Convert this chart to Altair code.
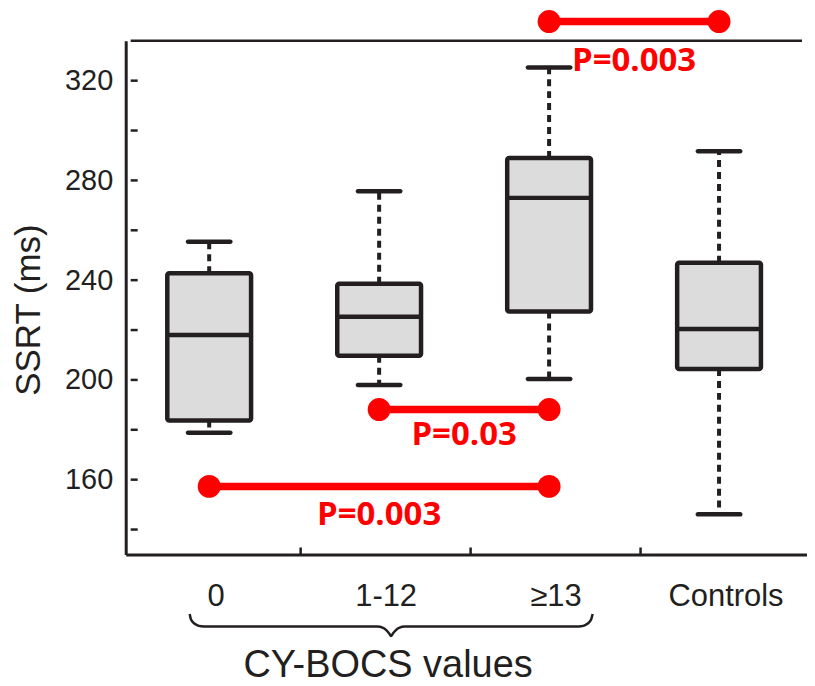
import json
import altair as alt
import pandas as pd

# ---------------- data ----------------
groups = ["0", "1-12", "≥13", "Controls"]
positions = [0, 1, 2, 3]
whisker_low = [178.8, 198.0, 200.4, 146.1]
q1 = [183.7, 209.7, 227.4, 204.4]
median = [218.0, 225.3, 273.0, 220.4]
q3 = [242.8, 238.6, 289.0, 247.0]
whisker_high = [255.4, 275.7, 325.3, 291.7]

sig_from = [2, 1, 0]
sig_to = [3, 2, 2]
sig_level = [343.7, 188.1, 157.3]
sig_label = ["P=0.003", "P=0.03", "P=0.003"]
sig_label_y = [323.7, 174.1, 141.7]

y_label_values = [160, 200, 240, 280, 320]
y_tick_values = [140, 160, 180, 200, 220, 240, 260, 280, 300, 320]
x_tick_values = [0.5, 1.5, 2.5]

x_domain = [-0.5, 3.45]
y_domain = [130, 336]

# curly brace under the three CY-BOCS groups
brace_x = [-0.153, -0.147, -0.135, -0.113, -0.085, -0.06, 0.95, 0.985, 1.005, 1.02, 1.032,
           1.044, 1.059, 1.079, 1.114, 2.124, 2.149, 2.177, 2.199, 2.211, 2.218]
brace_y = [106.1, 104.3, 102.9, 101.8, 101.2, 101.1, 101.1, 100.6, 99.6, 98.4, 97.3,
           98.4, 99.6, 100.6, 101.1, 101.1, 101.2, 101.8, 102.9, 104.3, 106.1]

ink = "#231f20"
red = "#ff0000"
box_shift = -6.5

# ---------------- tables ----------------
boxes = pd.DataFrame({"pos": positions, "group": groups, "lo": whisker_low, "q1": q1,
                      "med": median, "q3": q3, "hi": whisker_high})
whiskers = pd.DataFrame({"pos": positions * 2, "a": q3 + q1, "b": whisker_high + whisker_low})
caps = pd.DataFrame({"pos": positions * 2, "v": whisker_high + whisker_low})
sig = pd.DataFrame({"a": sig_from, "b": sig_to, "lvl": sig_level, "label": sig_label,
                    "ly": sig_label_y,
                    "mid": [(f + t) / 2 for f, t in zip(sig_from, sig_to)]})
sig_pts = pd.DataFrame({"pos": sig_from + sig_to, "lvl": sig_level + sig_level})
yticks = pd.DataFrame({"pos": [x_domain[0]] * len(y_tick_values), "v": y_tick_values})
xticks = pd.DataFrame({"pos": x_tick_values, "v": [y_domain[0]] * len(x_tick_values)})
frame_top = pd.DataFrame({"a": [x_domain[0]], "b": [x_domain[1]], "v": [y_domain[1]]})
brace = pd.DataFrame({"pos": brace_x, "v": brace_y, "i": list(range(len(brace_x)))})

# ---------------- scales / axes ----------------
xs = alt.Scale(domain=x_domain, nice=False, zero=False)
ys = alt.Scale(domain=y_domain, nice=False, zero=False)

x_axis = alt.Axis(
    values=positions,
    labelExpr=json.dumps(groups, ensure_ascii=False) + "[datum.value]",
    ticks=False, tickSize=0, grid=False,
    domainColor=ink, domainWidth=3,
    labelFont="Liberation Sans", labelFontSize=31, labelColor=ink,
    labelBaseline="alphabetic", labelPadding=51, labelFlush=False,
    title="CY-BOCS values", titleFont="Liberation Sans", titleFontSize=38,
    titleFontWeight="normal", titleColor=ink, titleX=262.5, titleY=122,
    titleBaseline="alphabetic", titleAlign="center", titleAngle=0,
)
y_axis = alt.Axis(
    values=y_label_values,
    ticks=False, tickSize=0, grid=False,
    domainColor=ink, domainWidth=3,
    labelFont="Liberation Sans", labelFontSize=29, labelColor=ink,
    labelPadding=13, labelFlush=False,
    title="SSRT (ms)", titleFont="Liberation Sans", titleFontSize=35,
    titleFontWeight="normal", titleColor=ink, titleX=-86, titleY=269.5,
    titleBaseline="alphabetic", titleAlign="center", titleAngle=270,
)


def X(f):
    return alt.X(f, type="quantitative", scale=xs, axis=x_axis)


def Y(f):
    return alt.Y(f, type="quantitative", scale=ys, axis=y_axis)


# ---------------- layers ----------------
whisk_layer = alt.Chart(whiskers).mark_rule(
    color=ink, strokeWidth=4, strokeDash=[7, 5], xOffset=box_shift
).encode(x=X("pos"), y=Y("a"), y2="b")

box_layer = alt.Chart(boxes).mark_bar(
    size=84, fill="#dcdcdc", stroke=ink, strokeWidth=4.5, cornerRadius=2,
    xOffset=box_shift, opacity=1
).encode(x=X("pos"), y=Y("q1"), y2="q3")

med_layer = alt.Chart(boxes).mark_tick(
    orient="horizontal", size=86, thickness=4.5, color=ink, opacity=1, xOffset=box_shift
).encode(x=X("pos"), y=Y("med"))

cap_layer = alt.Chart(caps).mark_tick(
    orient="horizontal", size=47, thickness=4.5, cornerRadius=2.2, color=ink, opacity=1,
    xOffset=box_shift
).encode(x=X("pos"), y=Y("v"))

sig_rule = alt.Chart(sig).mark_rule(
    color=red, strokeWidth=7.5, xOffset=box_shift
).encode(x=X("a"), x2="b", y=Y("lvl"))

sig_dots = alt.Chart(sig_pts).mark_circle(
    color=red, size=529, opacity=1, xOffset=box_shift
).encode(x=X("pos"), y=Y("lvl"))

sig_text = alt.Chart(sig).mark_text(
    font="Open Sans", fontWeight="bold", fontSize=33, color=red,
    baseline="alphabetic", align="center", xOffset=box_shift
).encode(x=X("mid"), y=Y("ly"), text="label:N")

ytick_layer = alt.Chart(yticks).mark_tick(
    orient="horizontal", size=7, thickness=2.5, color=ink, opacity=1, xOffset=3.5
).encode(x=X("pos"), y=Y("v"))

xtick_layer = alt.Chart(xticks).mark_tick(
    orient="vertical", size=7, thickness=2.5, color=ink, opacity=1, yOffset=-3.5
).encode(x=X("pos"), y=Y("v"))

top_layer = alt.Chart(frame_top).mark_rule(
    color=ink, strokeWidth=2.5
).encode(x=X("a"), x2="b", y=Y("v"))

brace_layer = alt.Chart(brace).mark_line(
    color=ink, strokeWidth=2.5, interpolate="monotone"
).encode(x=X("pos"), y=Y("v"), order="i:Q")

chart = alt.layer(
    top_layer, ytick_layer, xtick_layer, whisk_layer, box_layer, med_layer, cap_layer,
    sig_rule, sig_dots, sig_text, brace_layer,
).properties(
    width=683, height=515,
    autosize=alt.AutoSizeParams(type="none"),
    padding={"left": 118, "top": 32, "right": 0, "bottom": 130},
).configure_view(stroke=None)

chart.save("out.html", embed_options={"renderer": "svg", "actions": False})
